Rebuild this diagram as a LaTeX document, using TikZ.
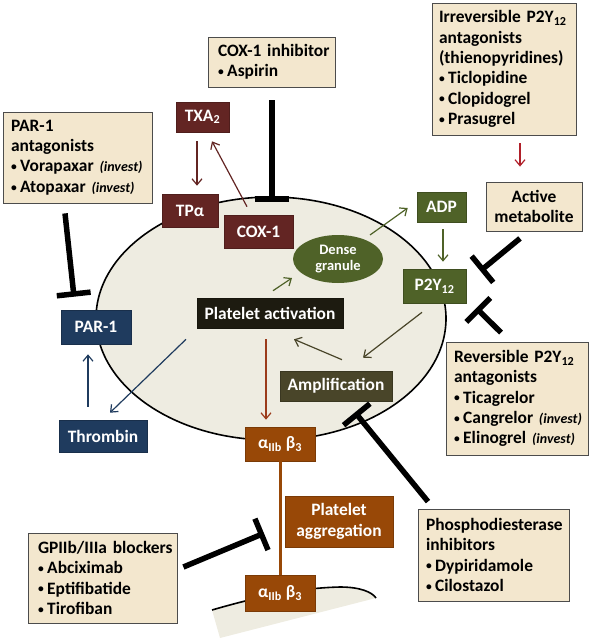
\documentclass[tikz,border=0pt]{standalone}
\usepackage{fontspec}
\setmainfont{Carlito}
\usetikzlibrary{arrows.meta,calc,shapes.geometric}
\definecolor{beige}{HTML}{F3E7CE}
\definecolor{plt}{HTML}{EEECE1}
\definecolor{maroonc}{HTML}{632523}
\definecolor{olivec}{HTML}{4F6228}
\definecolor{navyc}{HTML}{1F3B5E}
\definecolor{pac}{HTML}{1D1B10}
\definecolor{ampc}{HTML}{494529}
\definecolor{itgc}{HTML}{984807}
\definecolor{redarr}{HTML}{B0202A}
\definecolor{brarr}{HTML}{9B3B1B}
\newcommand\invest[1]{{\fontsize{14}{14}\selectfont\itshape #1}}
\newcommand\sbs[1]{\textsubscript{#1}}
\newcommand\bul{\raisebox{1.2pt}{\fontsize{11.5}{11.5}\selectfont •}\nobreak\hspace{3.5pt}\nobreak}
\begin{document}
\begin{tikzpicture}[x=1pt,y=-1pt,
  font=\fontsize{17.4}{20.3}\selectfont\bfseries,
  drug/.style={draw=black!70, line width=0.8pt, fill=beige, inner sep=0pt, align=left, anchor=center,
    execute at begin node={\hyphenpenalty=10000 \exhyphenpenalty=10000 }},
  dark/.style={inner sep=0pt, text=white, anchor=center, draw=#1!80!black, fill=#1, line width=0.6pt, align=center},
  arr/.style={line width=1.2pt, draw=#1, -{Straight Barb[length=6pt,width=10pt]}},
  inh/.style={line width=5.5pt, -{Bar[width=34pt]}}
]
\useasboundingbox (0,0) rectangle (591,640);

% platelets
\draw[line width=1.6pt, fill=plt] (271,318.5) ellipse [x radius=175, y radius=121.5];
\fill[plt] (212,610) .. controls (260,596) and (300,588) .. (340,587) .. controls (360,587) and (372,592) .. (376,598) -- (220,638) -- cycle;
\draw[line width=1.6pt] (212,610) .. controls (260,596) and (300,588) .. (340,587) .. controls (360,587) and (372,592) .. (376,598);

% drug boxes
\node[drug, minimum width=127pt, minimum height=50pt, text width=107pt] (coxinh) at (271.5,62) {COX-1~inhibitor\\\bul Aspirin};
\node[drug, minimum width=149pt, minimum height=91pt, text width=133pt] (parant) at (77.5,157.5) {PAR-1\\antagonists\\\bul Vorapaxar~\invest{(invest)}\\\bul Atopaxar~\invest{(invest)}};
\node[drug, minimum width=144pt, minimum height=132pt, text width=130pt] (irrev) at (504,69) {Irreversible~P2Y\sbs{12}\\antagonists\\(thienopyridines)\\\bul Ticlopidine\\\bul Clopidogrel\\\bul Prasugrel};
\node[drug, minimum width=96pt, minimum height=49pt, align=center] (actmet) at (534,206.5) {Active\\metabolite};
\node[drug, minimum width=142pt, minimum height=113pt, text width=126pt] (rev) at (517,398.5) {Reversible~P2Y\sbs{12}\\antagonists\\\bul Ticagrelor\\\bul Cangrelor~\invest{(invest)}\\\bul Elinogrel~\invest{(invest)}};
\node[drug, minimum width=151pt, minimum height=92pt, text width=135pt] (pde) at (493.5,555) {Phosphodiesterase\\inhibitors\\\bul Dypiridamole\\\bul Cilostazol};
\node[drug, minimum width=149pt, minimum height=90pt, text width=129pt] (gp) at (102.5,578) {GPIIb/IIIa~blockers\\\bul Abciximab\\\bul Eptifibatide\\\bul Tirofiban};

% dark boxes
\node[dark=maroonc, minimum width=53pt, minimum height=30pt] (txa) at (202.5,117) {TXA\sbs{2}};
\node[dark=maroonc, minimum width=56pt, minimum height=33pt] (tpa) at (190,210.5) {TPα};
\node[dark=maroonc, minimum width=69pt, minimum height=33pt] (cox) at (258.5,231.5) {COX-1};
\node[ellipse, fill=olivec, text=white, inner sep=0pt, minimum width=90pt, minimum height=48pt, align=center, font=\fontsize{14.5}{16.5}\selectfont\bfseries] (dg) at (338,259) {Dense\\granule};
\node[dark=olivec, minimum width=49pt, minimum height=30pt] (adp) at (441.5,207) {ADP};
\node[dark=olivec, minimum width=63pt, minimum height=34pt] (p2y) at (434.5,286) {P2Y\sbs{12}};
\node[dark=pac, minimum width=146pt, minimum height=30pt] (pa) at (270,313) {Platelet activation};
\node[dark=ampc, minimum width=112pt, minimum height=30pt] (amp) at (336,386) {Amplification};
\node[dark=itgc, minimum width=70pt, minimum height=34pt] (a1) at (280,444) {α\sbs{IIb} β\sbs{3}};
\node[dark=itgc, minimum width=70pt, minimum height=36pt] (a2) at (280,593) {α\sbs{IIb} β\sbs{3}};
\node[dark=itgc, minimum width=108pt, minimum height=51pt, font=\fontsize{17.4}{21}\selectfont\bfseries] (agg) at (339,521.5) {Platelet\\aggregation};
\node[dark=navyc, minimum width=70pt, minimum height=34pt] (par) at (96,327) {PAR-1};
\node[dark=navyc, minimum width=88pt, minimum height=32pt] (thr) at (103,436) {Thrombin};

% integrin link
\draw[itgc, line width=3pt] (a1.south) -- (a2.north);

% activating arrows
\draw[arr=maroonc] ($(txa.south)+(-5.5,9)$) -- ($(tpa.north)+(7,-8)$);
\draw[arr=maroonc] ($(cox.north)+(-11.5,-8)$) -- ($(txa.south)+(9.5,9)$);
\draw[arr=navyc] ($(thr.north)+(-15,-13)$) -- ($(par.south)+(-8,10)$);
\draw[arr=navyc] ($(pa.south)+(-84,11)$) -- ($(thr.north)+(7,-7)$);
\draw[arr=olivec] ($(pa.north)+(3,-7)$) -- ($(dg.center)+(-46,19)$);
\draw[arr=olivec] ($(dg.center)+(32,-24)$) -- ($(adp.west)+(-9,1)$);
\draw[arr=olivec] ($(adp.south)+(1.5,7)$) -- ($(p2y.north)+(8.5,-7)$);
\draw[arr=ampc] ($(p2y.south)+(-12.5,9)$) -- ($(amp.north)+(27,-13)$);
\draw[arr=ampc] ($(amp.north)+(6,-11)$) -- ($(pa.south)+(24,11)$);
\draw[arr=brarr] ($(pa.south)+(-4,11)$) -- ($(a1.north)+(-14,-7)$);
\draw[arr=redarr] ($(irrev.south)+(16,8)$) -- ($(actmet.north)+(-14,-15)$);

% inhibitions
\draw[inh] ($(coxinh.south)+(0.5,13)$) -- ($(cox.north)+(13.5,-13)$);
\draw[inh] ($(parant.south)+(-12.5,10)$) -- ($(par.north)+(-22,-13)$);
\draw[inh] ($(actmet.south)+(-14,7)$) -- ($(p2y.east)+(14,-15)$);
\draw[inh] ($(rev.north)+(-16,-9)$) -- ($(p2y.east)+(10,22)$);
\draw[inh] ($(pde.north)+(-65.5,-7)$) -- ($(amp.south)+(19,11)$);
\draw[inh] ($(gp.east)+(6,-11)$) -- ($(a1.south)+(-16,72)$);
\end{tikzpicture}
\end{document}
